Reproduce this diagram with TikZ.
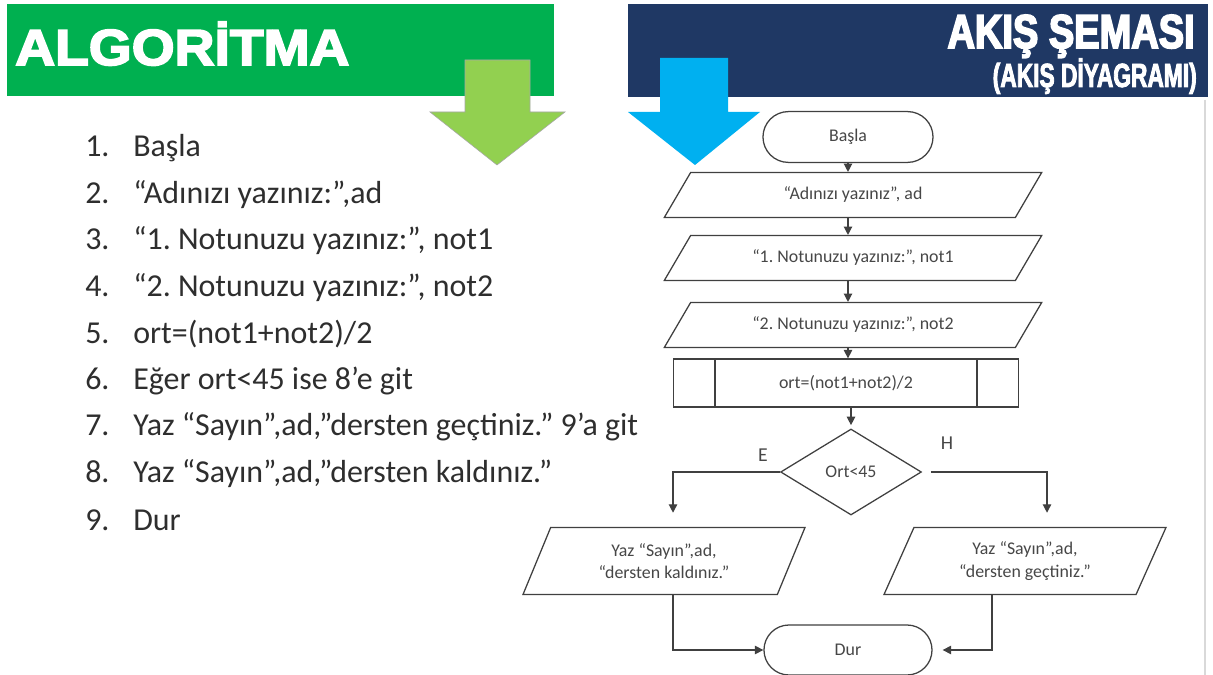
\documentclass[tikz,border=0pt]{standalone}
\usepackage{fontspec}
\setmainfont{Carlito}
\newfontfamily\algfont[FakeStretch=1.09,BoldFeatures={FakeBold=3.5}]{Liberation Sans}
\newfontfamily\flowfont[FakeStretch=0.8,BoldFeatures={FakeBold=3.5}]{Liberation Sans}
\newfontfamily\flowsubfont[FakeStretch=0.68,BoldFeatures={FakeBold=2.5}]{Liberation Sans}
\usetikzlibrary{arrows.meta,positioning,calc,shapes.geometric,shapes.misc}
\definecolor{algreen}{HTML}{00B050}
\definecolor{arrgreen}{HTML}{92D050}
\definecolor{navy}{HTML}{1F3864}
\definecolor{skyblue}{HTML}{00B0F0}
\definecolor{listtext}{HTML}{2E2E2E}
\definecolor{fcline}{HTML}{404040}
\definecolor{fctext}{HTML}{474747}
\frenchspacing
\tikzset{
  termbox/.style={rounded rectangle, draw=fcline, line width=0.9pt, fill=white,
                  minimum width=4.25cm, minimum height=1.27cm, inner sep=0pt,
                  font=\fontsize{12.7}{16}\selectfont, text=fctext},
  iobox/.style={trapezium, trapezium left angle=31, trapezium right angle=149,
                trapezium stretches body, draw=fcline, line width=0.9pt,
                minimum width=9.43cm, minimum height=1.12cm, inner sep=0pt,
                font=\fontsize{12.7}{16}\selectfont, text=fctext},
  outbox/.style={iobox, trapezium left angle=52, trapezium right angle=128,
                 minimum width=7.05cm, minimum height=1.68cm, align=center},
  procbox/.style={rectangle, draw=fcline, line width=0.9pt, minimum width=8.62cm,
                  minimum height=1.2cm, font=\fontsize{12.7}{16}\selectfont, text=fctext},
  decbox/.style={diamond, draw=fcline, line width=0.9pt, minimum width=3.52cm,
                 minimum height=2.15cm, inner sep=0pt,
                 font=\fontsize{12.7}{16}\selectfont, text=fctext},
  algline/.style={anchor=west, inner sep=0pt, text=listtext,
                  font=\fontsize{22.7}{26}\selectfont},
  lbl/.style={font=\fontsize{14}{16}\selectfont, text=fctext},
  arr/.style={-{Triangle[length=6pt,width=6pt]}, line width=0.9pt, draw=fcline}}

\begin{document}
\begin{tikzpicture}[x=0.025cm, y=-0.025cm]
  \useasboundingbox[fill=white] (0,0) rectangle (1213,675);
  % banners
  \fill[algreen] (7,4) rectangle (554,96);
  \fill[navy] (628,4) rectangle (1208,97);
  \draw[black!15, line width=1pt] (1205,100) -- (1205,675);
  \node[anchor=base west, inner sep=0pt, text=white]
    (algtitle) at (15,65) {\fontsize{36}{38}\algfont\bfseries ALGORİTMA};
  \node[anchor=base east, inner sep=0pt, text=white]
    (flowtitle) at (1195,48) {\fontsize{33.8}{36}\flowfont\bfseries AKIŞ ŞEMASI};
  \node[anchor=base east, inner sep=0pt, text=white]
    (flowsub) at (1197,87) {\fontsize{23.8}{26}\flowsubfont\bfseries (AKIŞ DİYAGRAMI)};
  % the two big arrows
  \filldraw[fill=arrgreen, draw=black!35, line width=0.4pt]
    (465,60) -- (530,60) -- (530,112) -- (565,112) -- (497,165)
    -- (430,112) -- (465,112) -- cycle;
  \fill[skyblue] (660,58) -- (728,58) -- (728,112) -- (760,112) -- (695,165)
    -- (628,112) -- (660,112) -- cycle;
  % the algorithm
  \foreach \txt [count=\i] in {{Başla}, {“Adınızı yazınız:”,ad},
      {“1. Notunuzu yazınız:”, not1}, {“2. Notunuzu yazınız:”, not2},
      {ort=(not1+not2)/2}, {Eğer ort<45 ise 8’e git},
      {Yaz “Sayın”,ad,”dersten geçtiniz.” 9’a git},
      {Yaz “Sayın”,ad,”dersten kaldınız.”}, {Dur}}
    \node[algline] (alg\i) at (85,{148+(\i-1)*46.5}) {\makebox[1.2cm][l]{\i.}\txt};
  % the flowchart
  \node[termbox] (basla) at (848,137) {Başla};
  \node[iobox] (in1) at (853,195) {“Adınızı yazınız”, ad};
  \node[iobox] (in2) at (853,258) {“1. Notunuzu yazınız:”, not1};
  \node[iobox] (in3) at (853,325) {“2. Notunuzu yazınız:”, not2};
  \node[procbox] (calc) at (846,383) {ort=(not1+not2)/2};
  \draw[fcline, line width=0.9pt] ([xshift=1.05cm]calc.north west) -- ([xshift=1.05cm]calc.south west)
    ([xshift=-1.05cm]calc.north east) -- ([xshift=-1.05cm]calc.south east);
  \node[decbox] (dec) at (851,472) {Ort<45};
  \node[lbl] (lblE) at (763,455) {E};
  \node[lbl] (lblH) at (947,443) {H};
  \node[outbox] (fail) at (664,561) {Yaz “Sayın”,ad,\\“dersten kaldınız.”};
  \node[outbox] (pass) at (1025,561) {Yaz “Sayın”,ad,\\“dersten geçtiniz.”};
  \node[termbox, minimum width=4.2cm, minimum height=1.25cm] (dur) at (848,650) {Dur};
  \draw[arr] (basla.south) -- (basla.south |- in1.north);
  \draw[arr] (in1.south -| basla) -- (in2.north -| basla);
  \draw[arr] (in2.south -| basla) -- (in3.north -| basla);
  \draw[arr] (in3.south -| basla) -- (calc.north -| basla);
  \draw[arr, shorten >=0.08cm] (calc.south -| dec) -- (dec.north);
  \draw[arr, shorten >=0.35cm] (dec.west) -| ([xshift=0.225cm]fail.north);
  \draw[arr, shorten <=0.22cm, shorten >=0.35cm] (dec.east) -| ([xshift=0.55cm]pass.north);
  \draw[arr] ([xshift=0.225cm]fail.south) |- (dur.west);
  \draw[arr, shorten >=0.25cm] ([xshift=-0.825cm]pass.south) |- (dur.east);
\end{tikzpicture}
\end{document}
